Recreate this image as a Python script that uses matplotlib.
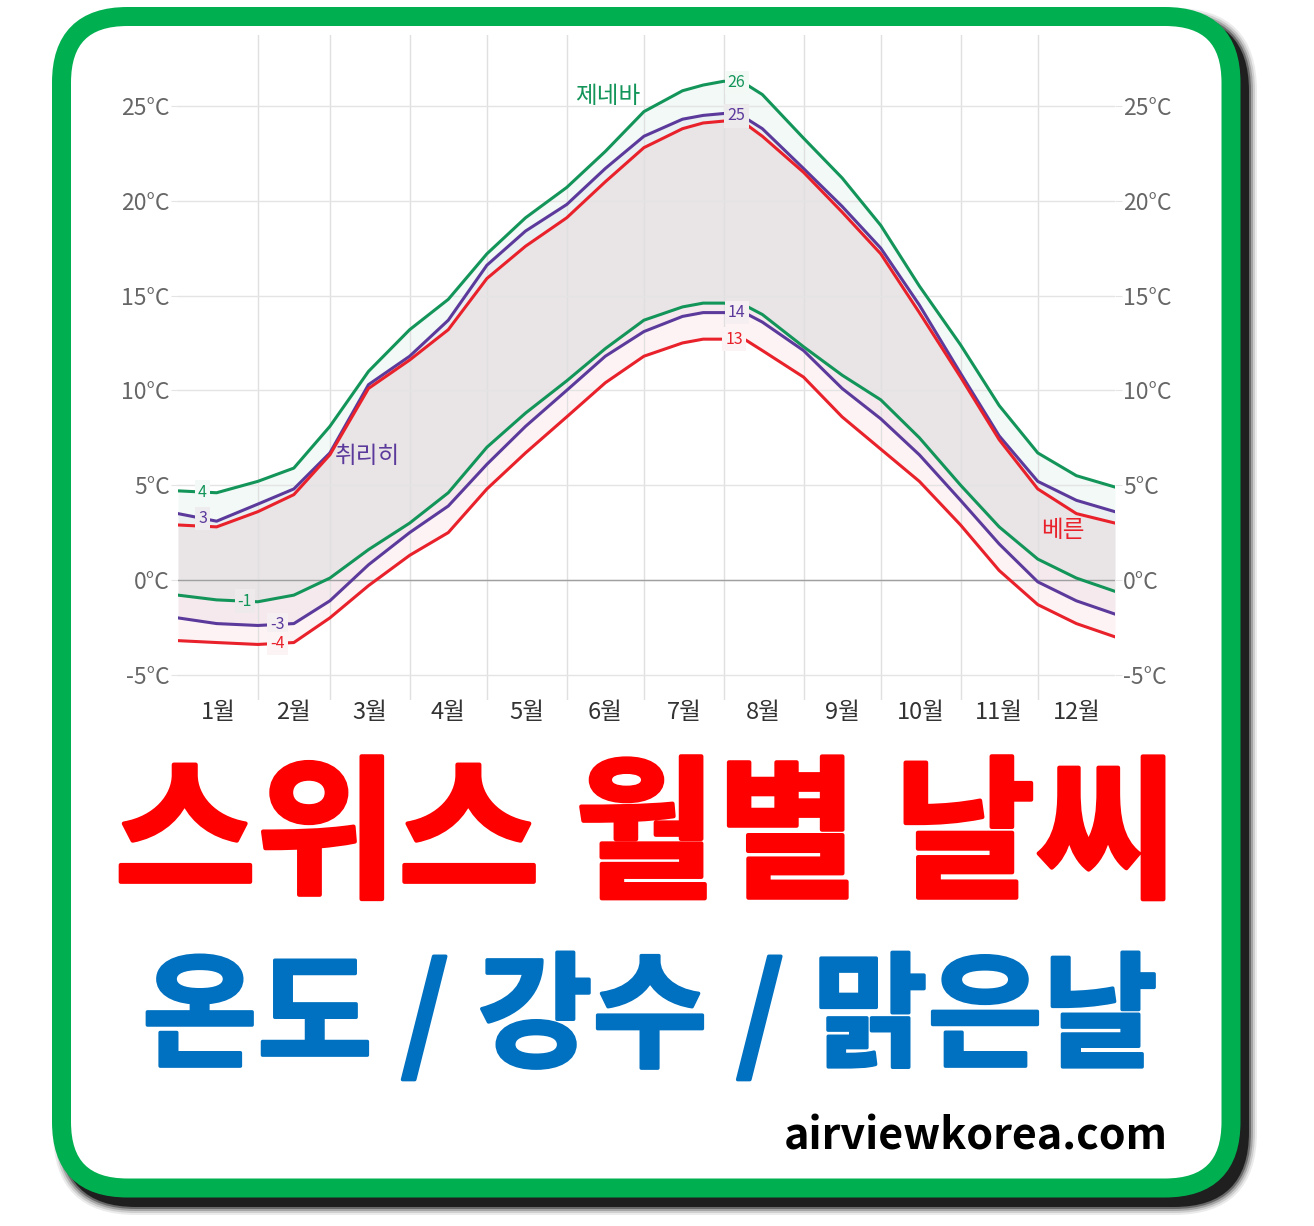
import numpy as np
import matplotlib
matplotlib.use('Agg')
import matplotlib.pyplot as plt
import matplotlib.patheffects as pe
from matplotlib.patches import FancyBboxPatch

plt.rcParams['font.family'] = ['Noto Sans CJK KR', 'DejaVu Sans']

# 일별 평균 최고/최저 기온 (그림에서 읽은 값, 연중 일수 기준)
days = [0, 15, 31, 45, 59, 74, 90, 105, 120, 135, 151, 166, 181, 196, 204, 212,
        220, 227, 243, 258, 273, 288, 304, 319, 334, 349, 364]

geneva_hi = [4.7, 4.6, 5.2, 5.9, 8.1, 11.0, 13.2, 14.8, 17.2, 19.1, 20.7, 22.6, 24.7,
             25.8, 26.1, 26.3, 26.2, 25.6, 23.3, 21.2, 18.7, 15.5, 12.4, 9.2, 6.7, 5.5, 4.9]
zurich_hi = [3.5, 3.1, 4.0, 4.8, 6.7, 10.3, 11.8, 13.7, 16.6, 18.4, 19.8, 21.7, 23.4,
             24.3, 24.5, 24.6, 24.4, 23.8, 21.7, 19.7, 17.5, 14.5, 10.9, 7.6, 5.2, 4.2, 3.6]
bern_hi = [2.9, 2.8, 3.6, 4.5, 6.6, 10.1, 11.6, 13.2, 15.9, 17.6, 19.1, 21.0, 22.8,
           23.8, 24.1, 24.2, 24.1, 23.4, 21.5, 19.4, 17.2, 14.1, 10.7, 7.4, 4.8, 3.5, 3.0]

geneva_lo = [-0.8, -1.05, -1.15, -0.8, 0.1, 1.6, 3.0, 4.6, 7.0, 8.8, 10.5, 12.2, 13.7,
             14.4, 14.6, 14.6, 14.5, 14.0, 12.3, 10.8, 9.5, 7.5, 5.0, 2.8, 1.1, 0.1, -0.6]
zurich_lo = [-2.0, -2.3, -2.4, -2.3, -1.1, 0.8, 2.5, 3.9, 6.1, 8.1, 10.0, 11.8, 13.1,
             13.9, 14.1, 14.1, 14.1, 13.6, 12.1, 10.1, 8.5, 6.6, 4.2, 1.9, -0.1, -1.1, -1.8]
bern_lo = [-3.2, -3.3, -3.4, -3.3, -2.0, -0.3, 1.3, 2.5, 4.8, 6.7, 8.6, 10.4, 11.8,
           12.5, 12.7, 12.7, 12.7, 12.1, 10.7, 8.6, 6.9, 5.2, 2.9, 0.5, -1.3, -2.3, -3.0]

month_start = [0, 31, 59, 90, 120, 151, 181, 212, 243, 273, 304, 334, 364]
month_labels = ['1월', '2월', '3월', '4월', '5월', '6월', '7월', '8월', '9월', '10월', '11월', '12월']
yticks = [-5, 0, 5, 10, 15, 20, 25]

cities = ['제네바', '취리히', '베른']
colors = ['#13955a', '#5b3a9c', '#e8212b']

# (도시 번호, 최고/최저, 날짜, 표시값, 배경색)
point_labels = [
    (0, 'hi', 9.5, '4', '#f3f9f6'),
    (1, 'hi', 9.5, '3', '#efecef'),
    (0, 'lo', 26, '-1', '#eeeaeb'),
    (1, 'lo', 38.6, '-3', '#f6eff1'),
    (2, 'lo', 38.6, '-4', '#fcf3f4'),
    (0, 'hi', 217, '26', '#f3faf6'),
    (1, 'hi', 217, '25', '#eeebed'),
    (1, 'lo', 217, '14', '#f6eff1'),
    (2, 'lo', 216, '13', '#fcf3f4'),
]
city_pos = [(167, 25.5), (73.6, 6.5), (343.6, 2.6)]

W, H = 1314, 1226
fig = plt.figure(figsize=(W / 100, H / 100), dpi=100)
fig.patch.set_facecolor('white')

# 배경 (테두리, 그림자, 제목)
bg = fig.add_axes([0, 0, 1, 1], zorder=0)
bg.set_xlim(0, W)
bg.set_ylim(H, 0)
bg.axis('off')

x0, y0, x1, y1 = 52, 7, 1240, 1198
for g, a in [(8, 0.08), (6, 0.12), (4, 0.2), (2, 0.35), (0, 0.7)]:
    bg.add_patch(FancyBboxPatch((x0 + 9 - g, y0 + 9 - g), x1 - x0 + 2 * g, y1 - y0 + 2 * g,
                                boxstyle=f'round,pad=0,rounding_size={75 + g}',
                                fc='black', ec='none', alpha=a))
bg.add_patch(FancyBboxPatch((61.5, 16.5), 1231 - 61.5, 1188 - 16.5,
                            boxstyle='round,pad=0,rounding_size=66',
                            fc='white', ec='#00b050', lw=19 * 0.72))

bg.text(646, 840, '스위스 월별 날씨', fontsize=111, fontweight='bold', color='#ff0000',
        ha='center', va='center',
        path_effects=[pe.withStroke(linewidth=3, foreground='#ff0000')])
bg.text(650, 1020, '온도 / 강수 / 맑은날', fontsize=90, fontweight='bold', color='#0070c0',
        ha='center', va='center',
        path_effects=[pe.withStroke(linewidth=2.5, foreground='#0070c0')])
bg.text(1168, 1136, 'airviewkorea.com', fontsize=31, fontweight='bold', color='black',
        ha='right', va='center')

# 차트
ax = fig.add_axes([178 / W, 1 - 700 / H, (1115 - 178) / W, (700 - 35) / H], zorder=2)
ax.patch.set_visible(False)

his = [geneva_hi, zurich_hi, bern_hi]
los = [geneva_lo, zurich_lo, bern_lo]
for hi, lo, c in zip(his, los, colors):
    ax.fill_between(days, lo, hi, color=c, alpha=0.05, lw=0, zorder=1)
for hi, lo, c in zip(his, los, colors):
    ax.plot(days, hi, color=c, lw=2.2, zorder=3, solid_joinstyle='round')
    ax.plot(days, lo, color=c, lw=2.2, zorder=3, solid_joinstyle='round')

for ci, kind, d, txt, fc in point_labels:
    series = his[ci] if kind == 'hi' else los[ci]
    yv = np.interp(d, days, series)
    ax.text(d, yv, txt, fontsize=11.5, color=colors[ci],
            ha='center', va='center', zorder=4,
            bbox=dict(boxstyle='square,pad=0.2', fc=fc, ec='none'))

for name, (d, t), c in zip(cities, city_pos, colors):
    ax.text(d, t, name, fontsize=17, color=c, ha='center', va='center', zorder=5)

ax.set_xlim(0, 364)
ax.set_ylim(-6.33, 28.74)
ax.set_yticks(yticks)
ax.set_yticklabels([f'{v}°C' for v in yticks])
ax.set_xticks([(a + b) / 2 for a, b in zip(month_start[:-1], month_start[1:])])
ax.set_xticklabels(month_labels)
ax.set_xticks(month_start[1:-1], minor=True)

ax.grid(axis='y', which='major', color='#e4e4e4', lw=1)
ax.grid(axis='x', which='minor', color='#e0e0e0', lw=1)
ax.axhline(0, color='#a0a0a0', lw=1, zorder=2)
for s in ax.spines.values():
    s.set_visible(False)

ax.tick_params(axis='x', which='both', length=0, pad=1, labelsize=17, labelcolor='#333333')
ax.tick_params(axis='y', length=5, color='#e4e4e4', pad=1, labelsize=16.5,
               labelcolor='#666666', right=True, labelright=True)

fig.savefig('out.png', dpi=100, facecolor='white')
